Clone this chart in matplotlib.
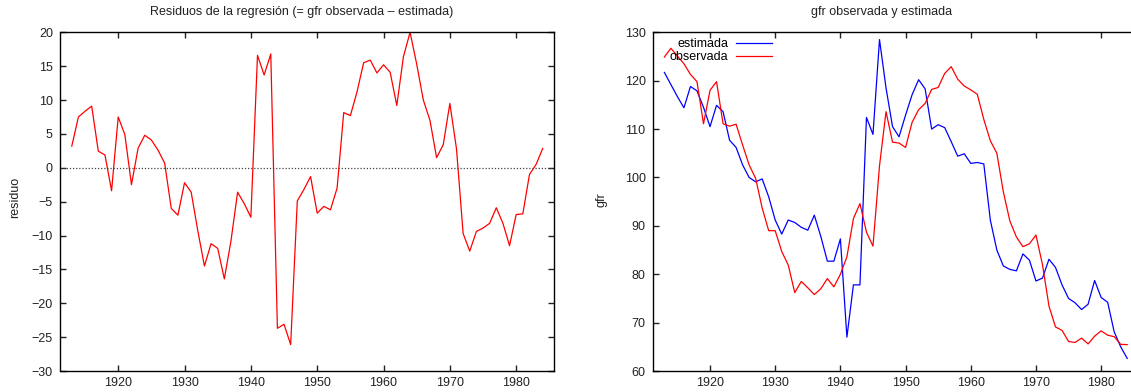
import matplotlib
matplotlib.use("Agg")
import matplotlib.pyplot as plt

plt.rcParams['font.family'] = ['Liberation Sans', 'DejaVu Sans']
plt.rcParams['font.size'] = 9

years = list(range(1913, 1985))

residuo = [3.2, 7.5, 8.35, 9.1, 2.45, 1.9, -3.4, 7.5, 4.9, -2.5,
           2.9, 4.8, 4.1, 2.6, 0.7, -6.0, -7.0, -2.2, -3.6, -9.3,
           -14.5, -11.2, -11.9, -16.4, -10.8, -3.6, -5.3, -7.3, 16.6, 13.7,
           16.8, -23.7, -23.1, -26.1, -4.9, -3.2, -1.3, -6.7, -5.7, -6.2,
           -3.0, 8.15, 7.7, 11.2, 15.5, 15.9, 14.0, 15.2, 14.1, 9.2,
           16.4, 20.0, 15.3, 10.0, 7.0, 1.5, 3.4, 9.5, 2.8, -9.7,
           -12.3, -9.4, -8.9, -8.2, -5.9, -8.2, -11.5, -6.9, -6.8, -1.0,
           0.5, 2.85]

estimada = [121.7, 119.2, 116.7, 114.4, 118.8, 117.9, 114.5, 110.5, 114.9, 113.6,
            107.7, 106.2, 102.6, 100.0, 99.1, 99.7, 96.0, 91.2, 88.3, 91.2,
            90.7, 89.7, 89.1, 92.2, 87.8, 82.7, 82.7, 87.3, 67.0, 77.8,
            77.8, 112.4, 108.9, 128.5, 118.5, 110.5, 108.4, 112.9, 117.1, 120.2,
            118.3, 110.0, 110.9, 110.3, 107.4, 104.4, 104.9, 102.9, 103.1, 102.8,
            91.2, 85.0, 81.7, 81.0, 80.7, 84.2, 82.9, 78.6, 79.2, 83.1,
            81.4, 77.8, 75.0, 74.1, 72.7, 73.8, 78.7, 75.2, 74.2, 68.1,
            65.0, 62.6]

observada = [124.9, 126.7, 125.1, 123.5, 121.3, 119.8, 111.1, 118.0, 119.8, 111.1,
             110.6, 111.0, 106.7, 102.6, 99.8, 93.7, 89.0, 89.0, 84.7, 81.9,
             76.2, 78.5, 77.2, 75.8, 77.0, 79.1, 77.4, 80.0, 83.6, 91.5,
             94.6, 88.7, 85.8, 102.4, 113.6, 107.3, 107.1, 106.2, 111.4, 114.0,
             115.3, 118.2, 118.6, 121.5, 122.9, 120.3, 118.9, 118.1, 117.2, 112.0,
             107.6, 105.0, 97.0, 91.0, 87.7, 85.7, 86.3, 88.1, 82.0, 73.4,
             69.1, 68.4, 66.1, 65.9, 66.8, 65.6, 67.2, 68.3, 67.4, 67.1,
             65.5, 65.45]

xticks = [1920, 1930, 1940, 1950, 1960, 1970, 1980]
yticks_res = list(range(-30, 25, 5))
yticks_gfr = list(range(60, 140, 10))

W, H = 1131, 392
fig = plt.figure(figsize=(W / 100, H / 100), dpi=100)


def rect(l, t, r, b):
    return [l / W, 1 - b / H, (r - l) / W, (b - t) / H]


def style(ax):
    for s in ax.spines.values():
        s.set_linewidth(1.0)
        s.set_color('black')
    ax.tick_params(direction='in', length=4, width=1.0, top=True, right=True,
                   labelsize=9, pad=5.5, colors='#222222')
    ax.tick_params(axis='x', pad=4)


ax1 = fig.add_axes(rect(60.5, 32.3, 554, 371))
ax1.plot(years, residuo, color='#ff0000', lw=0.9)
ax1.axhline(0, color='#444444', lw=0.9, linestyle=(0, (1, 1.5)))
ax1.set_xlim(1911.3, 1985.7)
ax1.set_ylim(-30, 20)
ax1.set_xticks(xticks)
ax1.set_yticks(yticks_res)
style(ax1)

ax2 = fig.add_axes(rect(653.3, 32.3, 1138.3, 371))
l_est, = ax2.plot(years, estimada, color='#0000ff', lw=0.9, label='estimada')
l_obs, = ax2.plot(years, observada, color='#ff0000', lw=0.9, label='observada')
ax2.set_xlim(1911.3, 1985.7)
ax2.set_ylim(60, 130)
ax2.set_xticks(xticks)
ax2.set_yticks(yticks_gfr)
style(ax2)
ax2.legend(handles=[l_est, l_obs], loc='upper left', markerfirst=False,
           frameon=False, fontsize=9, handlelength=2.9, handletextpad=0.6,
           labelspacing=0.1, borderpad=0, borderaxespad=0,
           bbox_to_anchor=(670 / W, 1 - 38 / H), bbox_transform=fig.transFigure)

fig.text(301.7 / W, 1 - 12.5 / H, 'Residuos de la regresión (= gfr observada \u2013 estimada)',
         ha='center', va='center', fontsize=9, color='#222222')
fig.text(882 / W, 1 - 12.5 / H, 'gfr observada y estimada',
         ha='center', va='center', fontsize=9, color='#222222')
fig.text(15.5 / W, 1 - 197.5 / H, 'residuo', rotation=90, ha='center', va='center',
         fontsize=9, color='#222222')
fig.text(601.7 / W, 1 - 200 / H, 'gfr', rotation=90, ha='center', va='center',
         fontsize=9, color='#222222')

fig.savefig('out.png', dpi=100)
